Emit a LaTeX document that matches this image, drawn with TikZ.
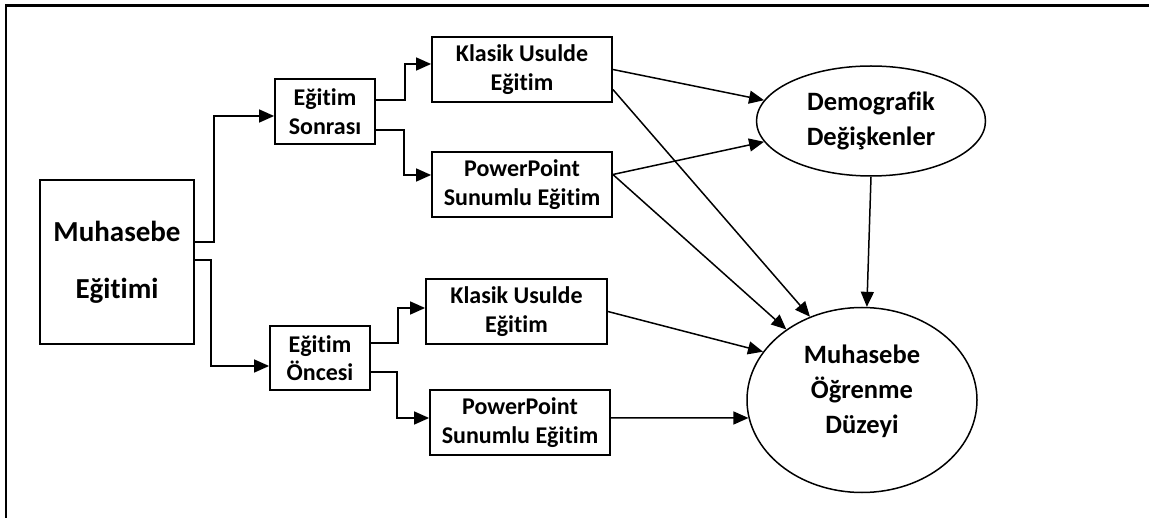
\documentclass[tikz,border=0pt]{standalone}
\usepackage{fontspec}
\setmainfont{Carlito}[RawFeature=-liga]
\usetikzlibrary{arrows.meta,shapes.geometric}
\begin{document}
\begin{tikzpicture}[x=1pt,y=-1pt,
  box/.style={draw,line width=1.8pt,inner sep=0pt,align=center,font=\bfseries\fontsize{24}{28.5}\selectfont},
  oval/.style={draw,ellipse,line width=1.5pt,inner sep=0pt,align=center,font=\bfseries\fontsize{26.5}{35}\selectfont},
  arr/.style={line width=1.5pt,-{Triangle[length=15pt,width=13pt]}},
  frame/.style={line width=2.2pt}]
\useasboundingbox (0,0) rectangle (1149,518);
\coordinate (fA) at (1149,5.5);
\coordinate (fB) at (6,5.5);
\coordinate (fC) at (6,518);
\draw[frame] (fA) -- (fB) -- (fC);

\node[box,minimum width=154pt,minimum height=164pt,font=\bfseries\fontsize{29}{57}\selectfont] (me) at (117,262) {Muhasebe\\Eğitimi};
\node[box,minimum width=100pt,minimum height=65pt] (es) at (325,111.5) {Eğitim\\Sonrası};
\node[box,minimum width=100pt,minimum height=64pt] (eo) at (320,358) {Eğitim\\Öncesi};
\node[box,minimum width=180pt,minimum height=65pt] (kt) at (522,69.5) {Klasik Usulde\\Eğitim};
\node[box,minimum width=180pt,minimum height=65pt] (pt) at (522,184.5) {PowerPoint\\Sunumlu Eğitim};
\node[box,minimum width=181pt,minimum height=65pt] (kb) at (516.5,311.5) {Klasik Usulde\\Eğitim};
\node[box,minimum width=180pt,minimum height=65pt] (pb) at (520,422.5) {PowerPoint\\Sunumlu Eğitim};
\node[oval,minimum width=229pt,minimum height=110pt] (dem) at (871,121) {Demografik\\Değişkenler};
\node[oval,minimum width=230pt,minimum height=185pt,text depth=21pt] (mo) at (862,400) {Muhasebe\\Öğrenme\\Düzeyi};

% elbow connectors
\draw[arr] ([yshift=20pt]me.east) -- ++(19pt,0) |- ([yshift=-4.5pt]es.west);
\draw[arr] ([yshift=2pt]me.east) -- ++(16pt,0) |- ([yshift=-8pt]eo.west);
\draw[arr] ([yshift=11.5pt]es.east) -- ++(29pt,0) |- ([yshift=5.5pt]kt.west);
\draw[arr] ([yshift=-18.5pt]es.east) -- ++(28pt,0) |- ([yshift=9.5pt]pt.west);
\draw[arr] ([yshift=15pt]eo.east) -- ++(27pt,0) |- ([yshift=3.5pt]kb.west);
\draw[arr] ([yshift=-14pt]eo.east) -- ++(26pt,0) |- ([yshift=4.5pt]pb.west);

% straight connectors
\draw[arr] (kt.east) -- (dem.169);
\draw[arr] ([yshift=10pt]pt.east) -- (dem.191);
\draw[arr] ([yshift=-20pt]kt.east) -- (mo.122);
\draw[arr] ([yshift=10pt]pt.east) -- (mo.137);
\draw[arr] (kb.east) -- (mo.154);
\draw[arr] ([yshift=4.5pt]pb.east) -- (mo.189);
\draw[arr] (dem.south) -- (mo.87);
\end{tikzpicture}
\end{document}
